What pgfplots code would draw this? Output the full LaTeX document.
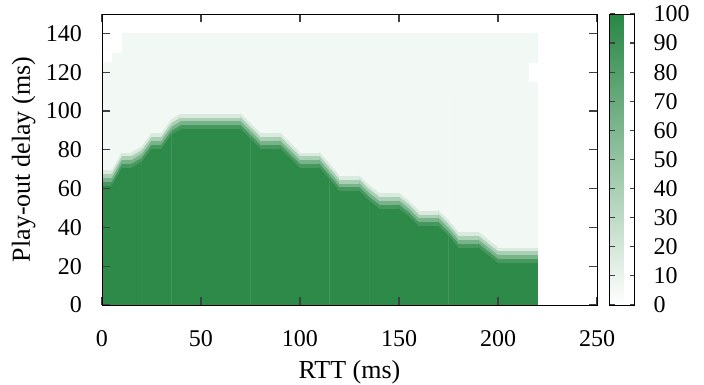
\documentclass[border=0pt]{standalone}
\usepackage{fontspec}
\setmainfont{Liberation Serif}
\usepackage{pgfplots}
\pgfplotsset{compat=1.18}
\begin{document}
\begin{tikzpicture}
\begin{axis}[
  name=ax,
  scale only axis, width=495pt, height=291pt,
  xmin=0, xmax=250, ymin=0, ymax=150,
  xtick={0,50,...,250}, ytick={0,20,...,140},
  tick align=inside, major tick length=8pt, tick pos=both,
  major tick style={draw=black!75, line width=1.2pt},
  axis line style={line width=0.8pt},
  axis on top,
  /pgf/number format/assume math mode=true,
  tick label style={font=\fontsize{24}{26}\selectfont, inner sep=0pt},
  yticklabel style={anchor=east, xshift=-20pt},
  xticklabel style={anchor=center, yshift=-34pt},
  label style={font=\fontsize{26}{28}\selectfont, inner sep=0pt},
  xlabel={RTT (ms)}, ylabel={Play-out delay (ms)},
  xlabel style={at={(axis description cs:0.5,0)}, anchor=center, yshift=-67pt},
  ylabel style={at={(axis description cs:-0.158,0.5)}, anchor=center},
  colormap={gw}{rgb255(0cm)=(255,255,255); rgb255(1cm)=(40,135,69)},
  point meta min=0, point meta max=100,
  colorbar,
  colorbar style={
    at={(parent axis.north east)}, anchor=north west, xshift=4pt,
    scale only axis, width=25pt,
    axis on top,
    ytick={0,10,...,100},
    tick align=inside, major tick length=5pt,
    major tick style={draw=black!75, line width=1.2pt},
    axis line style={line width=0.8pt},
    ytick pos=both, yticklabel pos=right,
    /pgf/number format/assume math mode=true,
    yticklabel style={font=\fontsize{24}{26}\selectfont, inner sep=0pt, anchor=west, xshift=19pt},
  },
]
\addplot[surf, shader=faceted, faceted color=mapped color, point meta=explicit, unbounded coords=jump, mesh/ordering=y varies] table[x=x, y=y, meta=z] {
x y z
0 0 97
0 62 97
0 64 74
0 66 51
0 68 28
0 70 6
0 110 6
0 115 6
0 120 6
0 125 6
0 130 nan
0 135 6
0 140 6

5 0 97
5 62 97
5 64 74
5 66 51
5 68 28
5 70 6
5 110 6
5 115 6
5 120 6
5 125 6
5 130 6
5 135 nan
5 140 6

10 0 97
10 71 97
10 73 74
10 75 51
10 77 28
10 79 6
10 110 6
10 115 6
10 120 6
10 125 6
10 130 6
10 135 6
10 140 6

15 0 97
15 71 97
15 73 74
15 75 51
15 77 28
15 79 6
15 110 6
15 115 6
15 120 6
15 125 6
15 130 6
15 135 6
15 140 6

20 0 97
20 74 97
20 76 74
20 78 51
20 80 28
20 82 6
20 110 6
20 115 6
20 120 6
20 125 6
20 130 6
20 135 6
20 140 6

25 0 97
25 81 97
25 83 74
25 85 51
25 87 28
25 89 6
25 110 6
25 115 6
25 120 6
25 125 6
25 130 6
25 135 6
25 140 6

30 0 97
30 81 97
30 83 74
30 85 51
30 87 28
30 89 6
30 110 6
30 115 6
30 120 6
30 125 6
30 130 6
30 135 6
30 140 6

35 0 97
35 88 97
35 90 74
35 92 51
35 94 28
35 96 6
35 110 6
35 115 6
35 120 6
35 125 6
35 130 6
35 135 6
35 140 6

40 0 97
40 91 97
40 93 74
40 95 51
40 97 28
40 99 6
40 110 6
40 115 6
40 120 6
40 125 6
40 130 6
40 135 6
40 140 6

45 0 97
45 91 97
45 93 74
45 95 51
45 97 28
45 99 6
45 110 6
45 115 6
45 120 6
45 125 6
45 130 6
45 135 6
45 140 6

50 0 97
50 91 97
50 93 74
50 95 51
50 97 28
50 99 6
50 110 6
50 115 6
50 120 6
50 125 6
50 130 6
50 135 6
50 140 6

55 0 97
55 91 97
55 93 74
55 95 51
55 97 28
55 99 6
55 110 6
55 115 6
55 120 6
55 125 6
55 130 6
55 135 6
55 140 6

60 0 97
60 91 97
60 93 74
60 95 51
60 97 28
60 99 6
60 110 6
60 115 6
60 120 6
60 125 6
60 130 6
60 135 6
60 140 6

65 0 97
65 91 97
65 93 74
65 95 51
65 97 28
65 99 6
65 110 6
65 115 6
65 120 6
65 125 6
65 130 6
65 135 6
65 140 6

70 0 97
70 91 97
70 93 74
70 95 51
70 97 28
70 99 6
70 110 6
70 115 6
70 120 6
70 125 6
70 130 6
70 135 6
70 140 6

75 0 97
75 86 97
75 88 74
75 90 51
75 92 28
75 94 6
75 110 6
75 115 6
75 120 6
75 125 6
75 130 6
75 135 6
75 140 6

80 0 97
80 81 97
80 83 74
80 85 51
80 87 28
80 89 6
80 110 6
80 115 6
80 120 6
80 125 6
80 130 6
80 135 6
80 140 6

85 0 97
85 81 97
85 83 74
85 85 51
85 87 28
85 89 6
85 110 6
85 115 6
85 120 6
85 125 6
85 130 6
85 135 6
85 140 6

90 0 97
90 81 97
90 83 74
90 85 51
90 87 28
90 89 6
90 110 6
90 115 6
90 120 6
90 125 6
90 130 6
90 135 6
90 140 6

95 0 97
95 76 97
95 78 74
95 80 51
95 82 28
95 84 6
95 110 6
95 115 6
95 120 6
95 125 6
95 130 6
95 135 6
95 140 6

100 0 97
100 71 97
100 73 74
100 75 51
100 77 28
100 79 6
100 110 6
100 115 6
100 120 6
100 125 6
100 130 6
100 135 6
100 140 6

105 0 97
105 71 97
105 73 74
105 75 51
105 77 28
105 79 6
105 110 6
105 115 6
105 120 6
105 125 6
105 130 6
105 135 6
105 140 6

110 0 97
110 71 97
110 73 74
110 75 51
110 77 28
110 79 6
110 110 6
110 115 6
110 120 6
110 125 6
110 130 6
110 135 6
110 140 6

115 0 97
115 65 97
115 67 74
115 69 51
115 71 28
115 73 6
115 110 6
115 115 6
115 120 6
115 125 6
115 130 6
115 135 6
115 140 6

120 0 97
120 59 97
120 61 74
120 63 51
120 65 28
120 67 6
120 110 6
120 115 6
120 120 6
120 125 6
120 130 6
120 135 6
120 140 6

125 0 97
125 59 97
125 61 74
125 63 51
125 65 28
125 67 6
125 110 6
125 115 6
125 120 6
125 125 6
125 130 6
125 135 6
125 140 6

130 0 97
130 59 97
130 61 74
130 63 51
130 65 28
130 67 6
130 110 6
130 115 6
130 120 6
130 125 6
130 130 6
130 135 6
130 140 6

135 0 97
135 54 97
135 56 74
135 58 51
135 60 28
135 62 6
135 110 6
135 115 6
135 120 6
135 125 6
135 130 6
135 135 6
135 140 6

140 0 97
140 50 97
140 52 74
140 54 51
140 56 28
140 58 6
140 110 6
140 115 6
140 120 6
140 125 6
140 130 6
140 135 6
140 140 6

145 0 97
145 50 97
145 52 74
145 54 51
145 56 28
145 58 6
145 110 6
145 115 6
145 120 6
145 125 6
145 130 6
145 135 6
145 140 6

150 0 97
150 50 97
150 52 74
150 54 51
150 56 28
150 58 6
150 110 6
150 115 6
150 120 6
150 125 6
150 130 6
150 135 6
150 140 6

155 0 97
155 46 97
155 48 74
155 50 51
155 52 28
155 54 6
155 110 6
155 115 6
155 120 6
155 125 6
155 130 6
155 135 6
155 140 6

160 0 97
160 41 97
160 43 74
160 45 51
160 47 28
160 49 6
160 110 6
160 115 6
160 120 6
160 125 6
160 130 6
160 135 6
160 140 6

165 0 97
165 41 97
165 43 74
165 45 51
165 47 28
165 49 6
165 110 6
165 115 6
165 120 6
165 125 6
165 130 6
165 135 6
165 140 6

170 0 97
170 41 97
170 43 74
170 45 51
170 47 28
170 49 6
170 110 6
170 115 6
170 120 6
170 125 6
170 130 6
170 135 6
170 140 6

175 0 97
175 36 97
175 38 74
175 40 51
175 42 28
175 44 6
175 110 6
175 115 6
175 120 6
175 125 6
175 130 6
175 135 6
175 140 6

180 0 97
180 30 97
180 32 74
180 34 51
180 36 28
180 38 6
180 110 6
180 115 6
180 120 6
180 125 6
180 130 6
180 135 6
180 140 6

185 0 97
185 30 97
185 32 74
185 34 51
185 36 28
185 38 6
185 110 6
185 115 6
185 120 6
185 125 6
185 130 6
185 135 6
185 140 6

190 0 97
190 30 97
190 32 74
190 34 51
190 36 28
190 38 6
190 110 6
190 115 6
190 120 6
190 125 6
190 130 6
190 135 6
190 140 6

195 0 97
195 26 97
195 28 74
195 30 51
195 32 28
195 34 6
195 110 6
195 115 6
195 120 6
195 125 6
195 130 6
195 135 6
195 140 6

200 0 97
200 22 97
200 24 74
200 26 51
200 28 28
200 30 6
200 110 6
200 115 6
200 120 6
200 125 6
200 130 6
200 135 6
200 140 6

205 0 97
205 22 97
205 24 74
205 26 51
205 28 28
205 30 6
205 110 6
205 115 6
205 120 6
205 125 6
205 130 6
205 135 6
205 140 6

210 0 97
210 22 97
210 24 74
210 26 51
210 28 28
210 30 6
210 110 6
210 115 6
210 120 6
210 125 6
210 130 6
210 135 6
210 140 6

215 0 97
215 22 97
215 24 74
215 26 51
215 28 28
215 30 6
215 110 6
215 115 6
215 120 6
215 125 6
215 130 6
215 135 6
215 140 6

220 0 97
220 22 97
220 24 74
220 26 51
220 28 28
220 30 6
220 110 6
220 115 6
220 120 nan
220 125 6
220 130 6
220 135 6
220 140 6
};
\end{axis}
% second frame carrying the inward ticks
\begin{axis}[
  at={(ax.south west)}, anchor=south west,
  scale only axis, width=495pt, height=291pt,
  xmin=0, xmax=250, ymin=0, ymax=150,
  xtick={0,50,...,250}, ytick={0,20,...,140},
  xticklabels={}, yticklabels={},
  tick align=inside, major tick length=8pt, tick pos=both,
  major tick style={draw=black!75, line width=1.2pt},
  axis line style={line width=0.8pt},
]
\end{axis}
\pgfresetboundingbox
\path[use as bounding box] ([shift={(-102pt,-80pt)}]ax.south west) rectangle ([shift={(602pt,305pt)}]ax.south west);
\end{tikzpicture}
\end{document}
